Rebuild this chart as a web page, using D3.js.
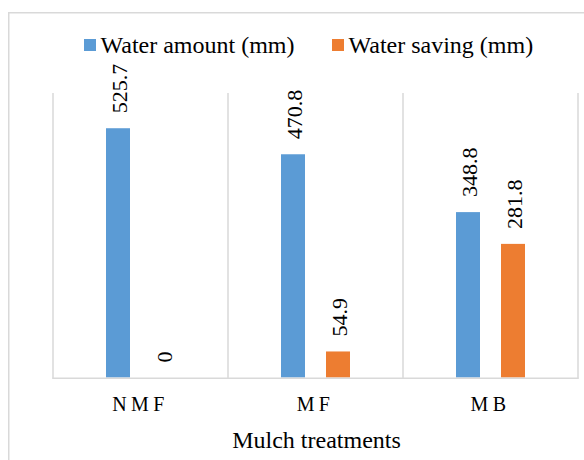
<!DOCTYPE html>
<html>
<head>
<meta charset="utf-8">
<script src="https://cdn.jsdelivr.net/npm/d3@7"></script>
<style>
  html, body { margin: 0; padding: 0; background: #fff; }
  svg { display: block; }
</style>
</head>
<body>
<svg id="chart" width="584" height="460"></svg>
<script>
const categories = ["NMF", "MF", "MB"];
const seriesNames = ["Water amount (mm)", "Water saving (mm)"];
const waterAmount = [525.7, 470.8, 348.8];
const waterSaving = [0, 54.9, 281.8];
const seriesColors = ["#5b9bd5", "#ed7d31"];
const yMax = 600;
const xTitle = "Mulch treatments";

const FONT = '"Liberation Serif", "Times New Roman", Times, serif';
const svg = d3.select("#chart").style("font-family", FONT);
const plot = { left: 53, right: 578, top: 93, bottom: 377.5 };

// outer chart border
svg.append("rect")
  .attr("x", 8.75).attr("y", 12.75)
  .attr("width", 700).attr("height", 600)
  .attr("fill", "none").attr("stroke", "#d9d9d9").attr("stroke-width", 1.5);

const x0 = d3.scaleBand().domain(categories).range([plot.left, plot.right]).paddingInner(0).paddingOuter(0);
const x1 = d3.scaleBand().domain(seriesNames).range([0, x0.bandwidth()]).paddingInner(0.467).paddingOuter(1.178);
const y = d3.scaleLinear().domain([0, yMax]).range([plot.bottom, plot.top]);

const seriesValues = [waterAmount, waterSaving];
const data = categories.map((c, i) => ({
  cat: c,
  vals: seriesNames.map((s, j) => ({ series: s, value: seriesValues[j][i], color: seriesColors[j] }))
}));

// vertical category separators
const bounds = categories.map(c => x0(c)).concat([x0.range()[1]]);
svg.append("g").selectAll("line").data(bounds).join("line")
  .attr("x1", d => d).attr("x2", d => d)
  .attr("y1", y(yMax)).attr("y2", plot.bottom + 1)
  .attr("stroke", "#d9d9d9").attr("stroke-width", 1.5);

// bars
const groups = svg.append("g").selectAll("g").data(data).join("g")
  .attr("transform", d => `translate(${x0(d.cat)},0)`);

groups.selectAll("rect").data(d => d.vals).join("rect")
  .attr("x", d => x1(d.series))
  .attr("width", x1.bandwidth())
  .attr("y", d => y(d.value))
  .attr("height", d => y(0) - y(d.value))
  .attr("fill", d => d.color);

groups.selectAll("text").data(d => d.vals).join("text")
  .attr("transform", d => `translate(${x1(d.series) + x1.bandwidth() / 2 + 1.5},${y(d.value) - 15}) rotate(-90)`)
  .attr("dy", "0.34em")
  .attr("text-anchor", "start")
  .style("font-family", FONT)
  .style("font-size", "22px")
  .style("fill", "#000")
  .text(d => d.value === 0 ? "0" : d.value.toFixed(1));

// x axis
const xAxis = svg.append("g")
  .attr("transform", `translate(0,${plot.bottom + 0.75})`)
  .call(d3.axisBottom(x0).tickSize(0).tickPadding(0));
xAxis.attr("font-family", null).style("font-family", FONT);
xAxis.select(".domain").remove();
xAxis.selectAll("text")
  .attr("y", 33)
  .attr("dy", 0)
  .style("font-family", FONT)
  .style("font-size", "20px")
  .style("letter-spacing", "4.4px")
  .style("fill", "#000");

svg.append("line")
  .attr("x1", plot.left - 0.75).attr("x2", plot.right + 0.75)
  .attr("y1", plot.bottom + 0.75).attr("y2", plot.bottom + 0.75)
  .attr("stroke", "#d9d9d9").attr("stroke-width", 1.5);

// x title
svg.append("text")
  .attr("x", (plot.left + plot.right) / 2 + 1)
  .attr("y", 447.5)
  .attr("text-anchor", "middle")
  .style("font-family", FONT)
  .style("font-size", "24px")
  .style("fill", "#000")
  .text(xTitle);

// legend
const legendX = [84, 332];
const legend = svg.append("g").selectAll("g").data(seriesNames).join("g")
  .attr("transform", (d, i) => `translate(${legendX[i]},39)`);
legend.append("rect").attr("width", 12).attr("height", 12).attr("fill", (d, i) => seriesColors[i]);
legend.append("text").attr("x", 16.5).attr("y", 14)
  .style("font-family", FONT)
  .style("font-size", "24px")
  .style("fill", "#000")
  .text(d => d);
</script>
</body>
</html>
